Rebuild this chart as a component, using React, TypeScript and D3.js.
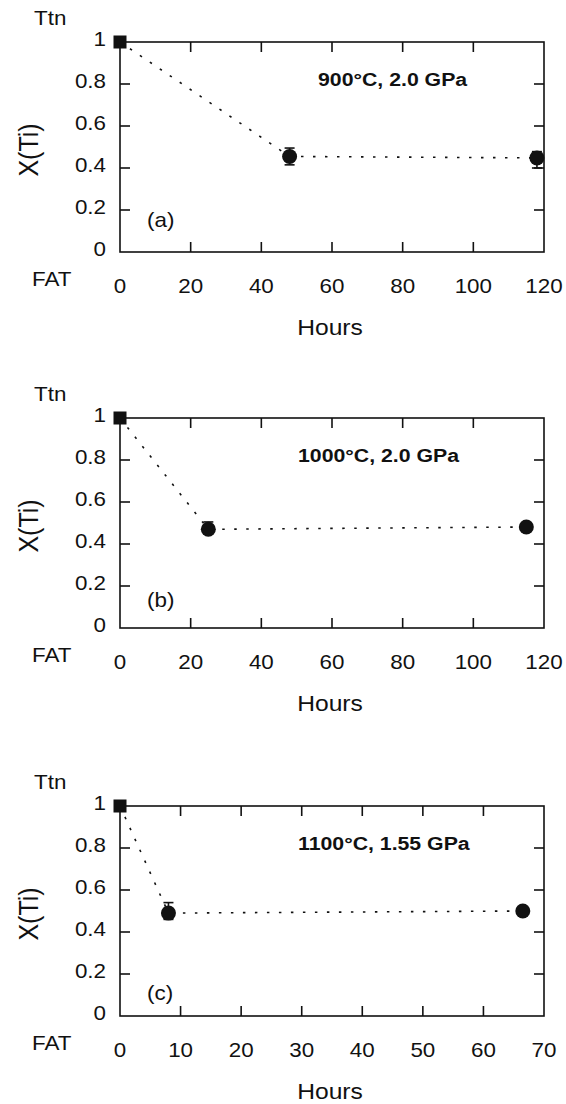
import React from 'react';
import * as d3 from 'd3';

// hours vs X(Ti), first point is the Ttn starting value
const hoursA = [0, 48, 118];
const xtiA = [1, 0.455, 0.448];
const errUpA = [0, 0.04, 0.03];
const errDnA = [0, 0.04, 0.048];

const hoursB = [0, 25, 115];
const xtiB = [1, 0.47, 0.481];
const errUpB = [0, 0.035, 0];
const errDnB = [0, 0, 0];

const hoursC = [0, 8, 66.5];
const xtiC = [1, 0.49, 0.5];
const errUpC = [0, 0.05, 0];
const errDnC = [0, 0.03, 0];

const yTicks = [0, 0.2, 0.4, 0.6, 0.8, 1];
const xTicks120 = [0, 20, 40, 60, 80, 100, 120];
const xTicks70 = [0, 10, 20, 30, 40, 50, 60, 70];

const titles = ['900°C, 2.0 GPa', '1000°C, 2.0 GPa', '1100°C, 1.55 GPa'];
const tags = ['(a)', '(b)', '(c)'];

const FONT = '"Liberation Sans", Arial, Helvetica, sans-serif';
const SX = 1.12; // the original figure is a little stretched sideways

function T({ x, y, children, size = 20, anchor = 'middle', bold = false, rotate = 0 }: any) {
  return (
    <text
      transform={`translate(${x},${y}) scale(${SX},1)${rotate ? ` rotate(${rotate})` : ''}`}
      fontFamily={FONT}
      fontSize={size}
      fontWeight={bold ? 'bold' : 'normal'}
      textAnchor={anchor}
      dominantBaseline="central"
      fill="#111"
    >
      {children}
    </text>
  );
}

function Panel({ top, hours, xti, errUp, errDn, xMax, xTicks, title, titleX, tag, tagDy }: any) {
  const left = 120, right = 544, bottom = top + 210;
  const x = d3.scaleLinear().domain([0, xMax]).range([left, right]);
  const y = d3.scaleLinear().domain([0, 1]).range([bottom, top]);
  const tl = 10;
  const pts = hours.map((h: number, i: number) => [x(h), y(xti[i])]);
  const line = d3.line();
  const innerX = xTicks.slice(1, -1);
  const innerY = yTicks.slice(1, -1);

  return (
    <g>
      <rect x={left} y={top} width={right - left} height={bottom - top} fill="none" stroke="#111" strokeWidth={1.6} />
      {innerX.map((t: number) => (
        <g key={'x' + t}>
          <line x1={x(t)} x2={x(t)} y1={bottom} y2={bottom - tl} stroke="#111" strokeWidth={1.6} />
          <line x1={x(t)} x2={x(t)} y1={top} y2={top + tl} stroke="#111" strokeWidth={1.6} />
        </g>
      ))}
      {innerY.map((t: number) => (
        <g key={'y' + t}>
          <line x1={left} x2={left + tl} y1={y(t)} y2={y(t)} stroke="#111" strokeWidth={1.6} />
          <line x1={right} x2={right - tl} y1={y(t)} y2={y(t)} stroke="#111" strokeWidth={1.6} />
        </g>
      ))}
      {xTicks.map((t: number) => (
        <T key={'xl' + t} x={x(t)} y={bottom + 34}>{t}</T>
      ))}
      {yTicks.map((t: number) => (
        <T key={'yl' + t} x={106} y={y(t) - 3} anchor="end">{t}</T>
      ))}
      <T x={34} y={top - 24} anchor="start">Ttn</T>
      <T x={32} y={bottom + 27} anchor="start">FAT</T>
      <T x={(left + right) / 2 - 2} y={bottom + 75} size={22}>Hours</T>
      <T x={29} y={(top + bottom) / 2 + 3} size={25} rotate={-90}>X(Ti)</T>
      <T x={titleX} y={top + 37} size={19} bold anchor="start">{title}</T>
      <T x={147} y={bottom - tagDy} anchor="start">{tag}</T>

      <path d={line(pts) || ''} fill="none" stroke="#111" strokeWidth={1.6} strokeDasharray="2.5 9.5" />
      {pts.map((p: number[], i: number) => {
        if (i === 0) return <rect key={i} x={p[0] - 6.5} y={p[1] - 6.5} width={13} height={13} fill="#111" />;
        const lo = y(xti[i] - errDn[i]);
        const hi = y(xti[i] + errUp[i]);
        return (
          <g key={i}>
            <g stroke="#111" strokeWidth={1.6}>
              {lo !== hi && <line x1={p[0]} x2={p[0]} y1={lo} y2={hi} />}
              {errDn[i] > 0 && <line x1={p[0] - 5} x2={p[0] + 5} y1={lo} y2={lo} />}
              {errUp[i] > 0 && <line x1={p[0] - 5} x2={p[0] + 5} y1={hi} y2={hi} />}
            </g>
            <circle cx={p[0]} cy={p[1]} r={7.5} fill="#111" />
          </g>
        );
      })}
    </g>
  );
}

export default function App() {
  return (
    <svg width={566} height={1104} style={{ position: 'absolute', left: 0, top: 0, background: '#fff' }}>
      <rect width={566} height={1104} fill="#fff" />
      <Panel top={42} hours={hoursA} xti={xtiA} errUp={errUpA} errDn={errDnA} xMax={120} xTicks={xTicks120}
        title={titles[0]} titleX={318} tag={tags[0]} tagDy={32} />
      <Panel top={418} hours={hoursB} xti={xtiB} errUp={errUpB} errDn={errDnB} xMax={120} xTicks={xTicks120}
        title={titles[1]} titleX={298} tag={tags[1]} tagDy={28} />
      <Panel top={806} hours={hoursC} xti={xtiC} errUp={errUpC} errDn={errDnC} xMax={70} xTicks={xTicks70}
        title={titles[2]} titleX={298} tag={tags[2]} tagDy={23} />
    </svg>
  );
}
